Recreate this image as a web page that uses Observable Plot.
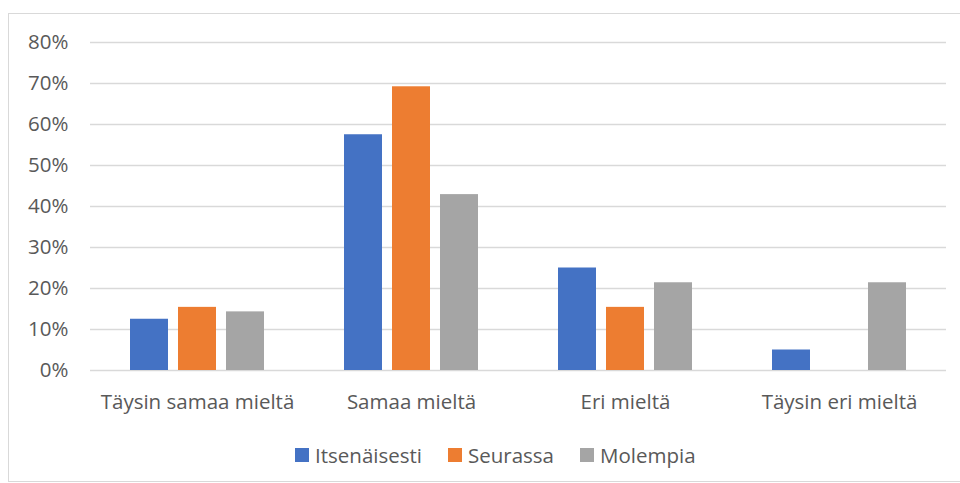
<!DOCTYPE html>
<html>
<head>
<meta charset="utf-8">
<script src="https://cdn.jsdelivr.net/npm/d3@7"></script>
<script src="https://cdn.jsdelivr.net/npm/@observablehq/plot@0.6"></script>
<style>
  html, body { margin: 0; padding: 0; background: #fff; overflow: hidden; }
  body { width: 960px; height: 483px; position: relative; font-family: "Open Sans", sans-serif; }
  #frame { position: absolute; left: 8px; top: 13px; width: 1000px; height: 469px; border: 1px solid #D9D9D9; box-sizing: border-box; pointer-events: none; }
  #chart { position: absolute; left: 0; top: 0; }
  #legend { position: absolute; left: 295px; top: 432px; height: 46px; display: flex; align-items: center; font-size: 20.5px; color: #595959; }
  #legend .item { display: flex; align-items: center; margin-right: 26px; }
  #legend .sw { width: 14px; height: 14px; margin-right: 6px; }
  #chart svg text { font-size: 20.5px; }
</style>
</head>
<body>
<div id="frame"></div>
<div id="chart"></div>
<div id="legend"></div>
<script>
const categories = ["Täysin samaa mieltä", "Samaa mieltä", "Eri mieltä", "Täysin eri mieltä"];
const seriesNames = ["Itsenäisesti", "Seurassa", "Molempia"];
const seriesColors = ["#4472C4", "#ED7D31", "#A5A5A5"];
const itsenaisesti = [0.125, 0.575, 0.25, 0.05];
const seurassa = [0.154, 0.692, 0.154, 0];
const molempia = [0.143, 0.429, 0.214, 0.214];
const yTicks = [0, 0.1, 0.2, 0.3, 0.4, 0.5, 0.6, 0.7, 0.8];

const seriesValues = [itsenaisesti, seurassa, molempia];
const data = [];
categories.forEach((c, i) => {
  seriesNames.forEach((s, j) => {
    data.push({category: c, series: s, value: seriesValues[j][i]});
  });
});

const chart = Plot.plot({
  width: 960,
  height: 432,
  marginTop: 42,
  marginBottom: 62,
  marginLeft: 89,
  marginRight: 14,
  style: {fontFamily: "Open Sans, sans-serif", fontSize: "20.5px", color: "#595959", background: "transparent"},
  fx: {domain: categories, padding: 0, label: null, tickSize: 0, tickPadding: 24, axis: "bottom"},
  x: {domain: seriesNames, axis: null, paddingInner: 0.208, paddingOuter: 0.833},
  y: {domain: [0, 0.8], ticks: yTicks, tickFormat: d => Math.round(d * 100) + "%", label: null, tickSize: 0, tickPadding: 22},
  color: {domain: seriesNames, range: seriesColors},
  marks: [
    Plot.ruleY(yTicks, {stroke: "#D9D9D9", strokeWidth: 1.3}),
    Plot.barY(data, {fx: "category", x: "series", y: "value", fill: "series"}),
  ]
});
document.getElementById("chart").appendChild(chart);

const legend = document.getElementById("legend");
seriesNames.forEach((s, i) => {
  const item = document.createElement("div");
  item.className = "item";
  const sw = document.createElement("div");
  sw.className = "sw";
  sw.style.background = seriesColors[i];
  const t = document.createElement("span");
  t.textContent = s;
  item.appendChild(sw);
  item.appendChild(t);
  legend.appendChild(item);
});
</script>
</body>
</html>
